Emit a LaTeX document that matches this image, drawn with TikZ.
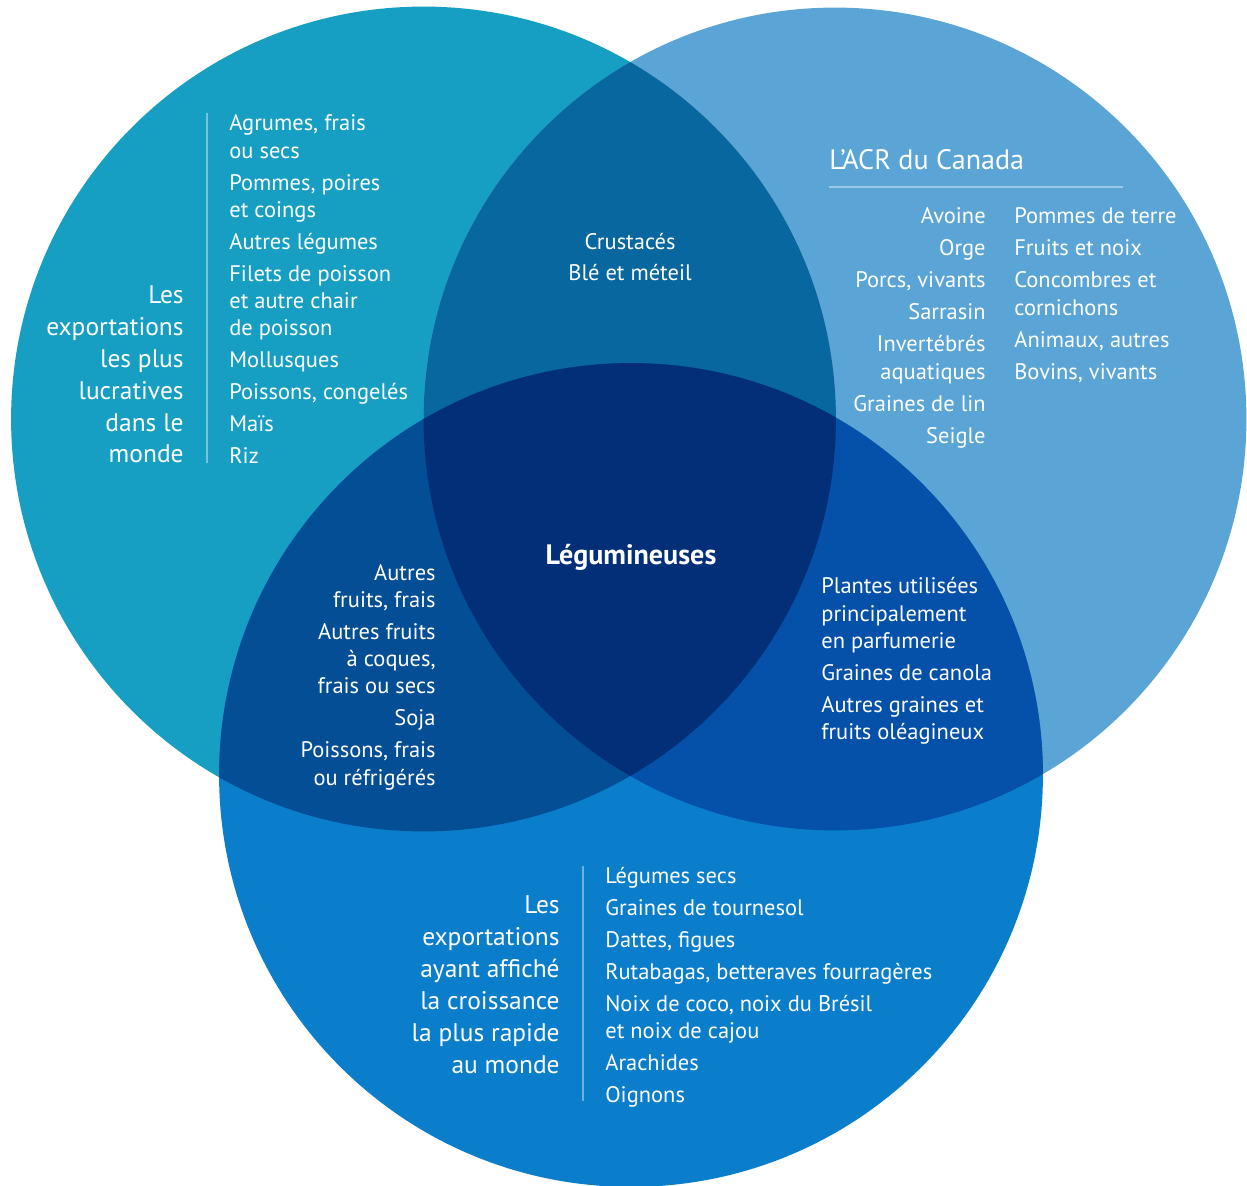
\documentclass[tikz,border=0pt]{standalone}
\usepackage{fontspec}
\setmainfont{PT Sans}
\usetikzlibrary{positioning}

\definecolor{bleuGauche}{RGB}{22,159,194}
\definecolor{bleuDroite}{RGB}{90,165,214}
\definecolor{bleuBas}{RGB}{11,126,203}
\definecolor{bleuGD}{RGB}{8,103,159}
\definecolor{bleuGB}{RGB}{3,78,148}
\definecolor{bleuDB}{RGB}{5,80,168}
\definecolor{bleuCentre}{RGB}{2,47,119}

\tikzset{
  liste/.style={anchor=base west, inner sep=0pt, text=white, font=\fontsize{12.8}{15}\selectfont},
  listeD/.style={liste, anchor=base east},
  titre/.style={listeD, font=\fontsize{14.5}{17}\selectfont},
  filet/.style={white, opacity=0.4, line width=0.7pt}
}

\begin{document}
\begin{tikzpicture}[x=0.02cm,y=-0.02cm]
	\useasboundingbox (0,0) rectangle (1247,1186);
	
	\coordinate (cG) at (423.5,419);
	\coordinate (cD) at (835,419);
	\coordinate (cB) at (631,775);
	
	% les trois cercles
	\fill[bleuGauche] (cG) circle[radius=8.25cm];
	\fill[bleuDroite] (cD) circle[radius=8.23cm];
	\fill[bleuBas] (cB) circle[radius=8.24cm];
	\begin{scope}
	\clip (cD) circle[radius=8.23cm];
	\fill[bleuDB] (cB) circle[radius=8.24cm];
	\end{scope}
	\begin{scope}
	\clip (cG) circle[radius=8.25cm];
	\fill[bleuGD] (cD) circle[radius=8.23cm];
	\fill[bleuGB] (cB) circle[radius=8.24cm];
	\clip (cD) circle[radius=8.23cm];
	\fill[bleuCentre] (cB) circle[radius=8.24cm];
	\end{scope}
	
	% cercle de gauche
	\foreach \y/\t [count=\i] in {303/Les, 335/exportations, 367/les plus, 399/lucratives, 431/dans le, 462/monde}
	\node[titre] (titreG-\i) at (184,\y) {\t};
	\draw[filet] (207,113) -- (207,463);
	\foreach \y/\t [count=\i] in {131/{Agrumes, frais}, 158/ou secs, 190/{Pommes, poires}, 217/et coings,
		249/Autres légumes, 281/Filets de poisson, 308/et autre chair, 335/de poisson,
		367/Mollusques, 399/{Poissons, congelés}, 431/Maïs, 463/Riz}
	\node[liste] (listeG-\i) at (229,\y) {\t};
	
	% gauche et droite
	\node[liste, anchor=base] (crustaces) at (630,249) {Crustacés};
	\node[liste, anchor=base] (ble) at (630,280) {Blé et méteil};
	
	% cercle de droite
	\node[liste, font=\fontsize{16}{19}\selectfont] (acr) at (829,169) {L’ACR du Canada};
	\draw[filet] (829,187) -- (1123,187);
	\foreach \y/\t [count=\i] in {223/Avoine, 255/Orge, 287/{Porcs, vivants}, 319/Sarrasin,
		351/Invertébrés, 379/aquatiques, 411/Graines de lin, 443/Seigle}
	\node[listeD] (acrA-\i) at (986,\y) {\t};
	\foreach \y/\t [count=\i] in {223/Pommes de terre, 255/Fruits et noix, 287/Concombres et,
		315/cornichons, 347/{Animaux, autres}, 379/{Bovins, vivants}}
	\node[liste] (acrB-\i) at (1014,\y) {\t};
	
	% centre
	\node[liste, anchor=base, font=\fontsize{16}{19}\selectfont\bfseries] (legumineuses) at (631,564) {Légumineuses};
	
	% gauche et bas
	\foreach \y/\t [count=\i] in {580/Autres, 607/{fruits, frais}, 639/Autres fruits, 666/{à coques,},
		693/frais ou secs, 725/Soja, 757/{Poissons, frais}, 785/ou réfrigérés}
	\node[listeD] (gb-\i) at (436,\y) {\t};
	
	% droite et bas
	\foreach \y/\t [count=\i] in {593/Plantes utilisées, 621/principalement, 648/en parfumerie,
		680/Graines de canola, 712/Autres graines et, 739/fruits oléagineux}
	\node[liste] (db-\i) at (821,\y) {\t};
	
	% cercle du bas
	\foreach \y/\t [count=\i] in {913/Les, 945/exportations, 977/ayant affiché, 1009/la croissance,
		1041/la plus rapide, 1073/au monde}
	\node[titre] (titreB-\i) at (560,\y) {\t};
	\draw[filet] (583,866) -- (583,1101);
	\foreach \y/\t [count=\i] in {883/Légumes secs, 915/Graines de tournesol, 947/{Dattes, figues},
		979/{Rutabagas, betteraves fourragères}, 1011/{Noix de coco, noix du Brésil}, 1038/et noix de cajou,
		1070/Arachides, 1102/Oignons}
	\node[liste] (listeB-\i) at (605,\y) {\t};
\end{tikzpicture}
\end{document}
